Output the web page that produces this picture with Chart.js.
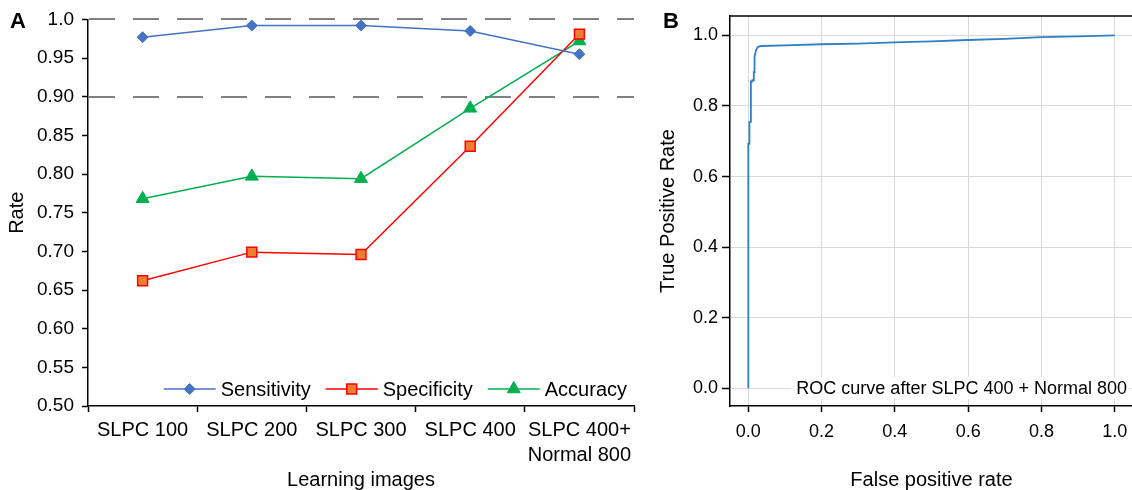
<!DOCTYPE html>
<html>
<head>
<meta charset="utf-8">
<script src="https://cdn.jsdelivr.net/npm/chart.js@4"></script>
<style>
  html, body { margin: 0; padding: 0; background: #fff; overflow: hidden; }
  body { width: 1132px; height: 490px; position: relative; }
  #leftWrap { position: absolute; left: 0; top: 0; width: 645px; height: 490px; }
  #rightWrap { position: absolute; left: 645px; top: 0; width: 500px; height: 490px; }
</style>
</head>
<body>
<div id="leftWrap"><canvas id="rateChart"></canvas></div>
<div id="rightWrap"><canvas id="rocChart"></canvas></div>
<script>
// panel A
const categories = ["SLPC 100", "SLPC 200", "SLPC 300", "SLPC 400", ["SLPC 400+", "Normal 800"]];
const sensitivity = [0.977, 0.992, 0.992, 0.985, 0.955];
const specificity = [0.662, 0.699, 0.696, 0.836, 0.981];
const accuracy = [0.768, 0.797, 0.794, 0.885, 0.972];
const rateTicks = [0.5, 0.55, 0.6, 0.65, 0.7, 0.75, 0.8, 0.85, 0.9, 0.95, 1.0];
const rateTickLabels = ["0.50", "0.55", "0.60", "0.65", "0.70", "0.75", "0.80", "0.85", "0.90", "0.95", "1.0"];
const refLines = [0.9, 1.0];

// panel B
const rocFpr = [0, 0, 0.003, 0.003, 0.007, 0.007, 0.011, 0.011, 0.015, 0.015, 0.017, 0.017, 0.021, 0.025, 0.030, 0.036,
  0.100, 0.200, 0.300, 0.400, 0.500, 0.600, 0.700, 0.800, 0.900, 1.000];
const rocTpr = [0, 0.693, 0.693, 0.755, 0.755, 0.870, 0.870, 0.873, 0.873, 0.896, 0.896, 0.939, 0.958, 0.966, 0.969, 0.970,
  0.972, 0.975, 0.977, 0.980, 0.983, 0.987, 0.990, 0.995, 0.997, 1.000];
const rocTicks = [0, 0.2, 0.4, 0.6, 0.8, 1.0];
const rocTickLabels = ["0.0", "0.2", "0.4", "0.6", "0.8", "1.0"];

const FONT = '"Liberation Sans", Arial, sans-serif';
Chart.defaults.font.family = FONT;
Chart.defaults.color = "#000";

const panelLetter = {
  id: "panelLetter",
  afterDraw(chart, args, opts) {
    const ctx = chart.ctx;
    ctx.save();
    ctx.font = "bold 22px " + FONT;
    ctx.fillStyle = "#000";
    ctx.textBaseline = "alphabetic";
    ctx.fillText(opts.text, opts.x, opts.y);
    ctx.restore();
  }
};

const dashedRefs = {
  id: "dashedRefs",
  beforeDatasetsDraw(chart) {
    const { ctx, chartArea } = chart;
    const yScale = chart.scales.y;
    ctx.save();
    ctx.strokeStyle = "#808080";
    ctx.lineWidth = 2;
    ctx.setLineDash([26, 18]);
    refLines.forEach(v => {
      const y = Math.round(yScale.getPixelForValue(v));
      ctx.beginPath();
      ctx.moveTo(chartArea.left + 1, y);
      ctx.lineTo(chartArea.right, y);
      ctx.stroke();
    });
    ctx.restore();
  }
};

const insideLegend = {
  id: "insideLegend",
  afterDatasetsDraw(chart) {
    const { ctx, chartArea } = chart;
    const lineLen = 52, textGap = 5, itemGap = 15;
    ctx.save();
    ctx.font = "20px " + FONT;
    const items = chart.data.datasets.map(ds => ({ ds, w: ctx.measureText(ds.label).width }));
    const total = items.reduce((s, it) => s + lineLen + textGap + it.w, 0) + itemGap * (items.length - 1);
    let x = chartArea.right - 7 - total;
    const y = chartArea.bottom - 17;
    items.forEach(({ ds, w }) => {
      ctx.setLineDash([]);
      ctx.strokeStyle = ds.borderColor;
      ctx.lineWidth = ds.borderWidth;
      ctx.beginPath();
      ctx.moveTo(x, y);
      ctx.lineTo(x + lineLen, y);
      ctx.stroke();
      ctx.fillStyle = ds.pointBackgroundColor;
      ctx.strokeStyle = ds.pointBorderColor;
      ctx.lineWidth = ds.pointBorderWidth;
      Chart.helpers.drawPoint(ctx, {
        pointStyle: ds.pointStyle, radius: ds.pointRadius, borderWidth: ds.pointBorderWidth, rotation: 0
      }, x + lineLen / 2, y);
      ctx.fillStyle = "#000";
      ctx.textBaseline = "middle";
      ctx.textAlign = "left";
      ctx.fillText(ds.label, x + lineLen + textGap, y + 1);
      x += lineLen + textGap + w + itemGap;
    });
    ctx.restore();
  }
};

new Chart(document.getElementById("rateChart"), {
  type: "line",
  data: {
    labels: categories,
    datasets: [
      {
        label: "Sensitivity",
        data: sensitivity,
        borderColor: "#4472C4",
        borderWidth: 1.5,
        pointStyle: "rectRot",
        pointRadius: 5.5,
        pointBackgroundColor: "#4472C4",
        pointBorderColor: "#4472C4",
        pointBorderWidth: 1,
        tension: 0
      },
      {
        label: "Specificity",
        data: specificity,
        borderColor: "#FF0000",
        borderWidth: 1.5,
        pointStyle: "rect",
        pointRadius: 7,
        pointBackgroundColor: "#ED7D31",
        pointBorderColor: "#FF0000",
        pointBorderWidth: 1.5,
        tension: 0
      },
      {
        label: "Accuracy",
        data: accuracy,
        borderColor: "#00B050",
        borderWidth: 1.5,
        pointStyle: "triangle",
        pointRadius: 7.5,
        pointBackgroundColor: "#00B050",
        pointBorderColor: "#00B050",
        pointBorderWidth: 1,
        tension: 0
      }
    ]
  },
  options: {
    responsive: true,
    maintainAspectRatio: false,
    animation: false,
    layout: { padding: { left: 0, right: 11, top: 18, bottom: 0 } },
    plugins: {
      legend: { display: false },
      tooltip: { enabled: false },
      panelLetter: { text: "A", x: 10, y: 28 }
    },
    scales: {
      x: {
        type: "category",
        offset: true,
        afterFit: s => { s.height = 84; },
        grid: { offset: true, drawOnChartArea: false, drawTicks: true, tickLength: 6, tickColor: "#000", tickWidth: 1.5 },
        border: { display: true, color: "#000", width: 1.5 },
        ticks: { font: { size: 20, lineHeight: 1.25 }, padding: 6, maxRotation: 0, autoSkip: false, color: "#000" },
        title: { display: true, text: "Learning images", font: { size: 20, lineHeight: 1 }, padding: 0, color: "#000" }
      },
      y: {
        min: 0.5,
        max: 1.0,
        afterFit: s => { s.width = 88; },
        afterBuildTicks: s => { s.ticks = rateTicks.map(v => ({ value: v })); },
        grid: { drawOnChartArea: false, drawTicks: true, tickLength: 6, tickColor: "#000", tickWidth: 1.5 },
        border: { display: true, color: "#000", width: 1.5 },
        ticks: { font: { size: 19 }, padding: 8, color: "#000", callback: (v, i) => rateTickLabels[i] },
        title: { display: true, text: "Rate", font: { size: 20, lineHeight: 1.2 }, padding: { top: 5, bottom: 0 }, color: "#000" }
      }
    }
  },
  plugins: [dashedRefs, insideLegend, panelLetter]
});

const rocExtras = {
  id: "rocExtras",
  afterDatasetsDraw(chart) {
    const { ctx, chartArea } = chart;
    ctx.save();
    ctx.font = "18px " + FONT;
    const txt = "ROC curve after SLPC 400 + Normal 800";
    const w = ctx.measureText(txt).width;
    const xr = chartArea.right - 6;
    const y = chartArea.bottom - 18;
    ctx.fillStyle = "#fff";
    ctx.fillRect(xr - w - 5, y - 11, w + 8, 22);
    ctx.fillStyle = "#000";
    ctx.textAlign = "right";
    ctx.textBaseline = "middle";
    ctx.fillText(txt, xr, y + 1);
    ctx.strokeStyle = "#000";
    ctx.lineWidth = 1.5;
    ctx.beginPath();
    ctx.moveTo(chartArea.left, chartArea.top);
    ctx.lineTo(chartArea.right, chartArea.top);
    ctx.stroke();
    ctx.restore();
  }
};

new Chart(document.getElementById("rocChart"), {
  type: "scatter",
  data: {
    datasets: [{
      label: "ROC",
      data: rocFpr.map((x, i) => ({ x: x, y: rocTpr[i] })),
      showLine: true,
      borderColor: "#2F7FC4",
      borderWidth: 1.8,
      pointRadius: 0,
      tension: 0
    }]
  },
  options: {
    responsive: true,
    maintainAspectRatio: false,
    animation: false,
    layout: { padding: { left: 0, right: 12, top: 16, bottom: 0 } },
    plugins: {
      legend: { display: false },
      tooltip: { enabled: false },
      panelLetter: { text: "B", x: 18, y: 28 }
    },
    scales: {
      x: {
        type: "linear",
        min: -0.05,
        max: 1.05,
        afterFit: s => { s.height = 84; },
        afterBuildTicks: s => { s.ticks = rocTicks.map(v => ({ value: v })); },
        grid: { color: "#D9D9D9", lineWidth: 1, drawTicks: true, tickLength: 6, tickColor: "#000", tickWidth: 1.5 },
        border: { display: true, color: "#000", width: 1.5 },
        ticks: { font: { size: 18 }, padding: 9, color: "#000", callback: (v, i) => rocTickLabels[i] },
        title: { display: true, text: "False positive rate", font: { size: 20, lineHeight: 1 }, padding: 0, color: "#000" }
      },
      y: {
        type: "linear",
        min: -0.05,
        max: 1.055,
        afterFit: s => { s.width = 85; },
        afterBuildTicks: s => { s.ticks = rocTicks.map(v => ({ value: v })); },
        grid: { color: "#D9D9D9", lineWidth: 1, drawTicks: true, tickLength: 8, tickColor: "#000", tickWidth: 1.5 },
        border: { display: true, color: "#000", width: 1.5 },
        ticks: { font: { size: 18 }, padding: 4, color: "#000", callback: (v, i) => rocTickLabels[i] },
        title: { display: true, text: "True Positive Rate", font: { size: 20, lineHeight: 1.2 }, padding: { top: 11, bottom: 0 }, color: "#000" }
      }
    }
  },
  plugins: [rocExtras, panelLetter]
});
</script>
</body>
</html>
